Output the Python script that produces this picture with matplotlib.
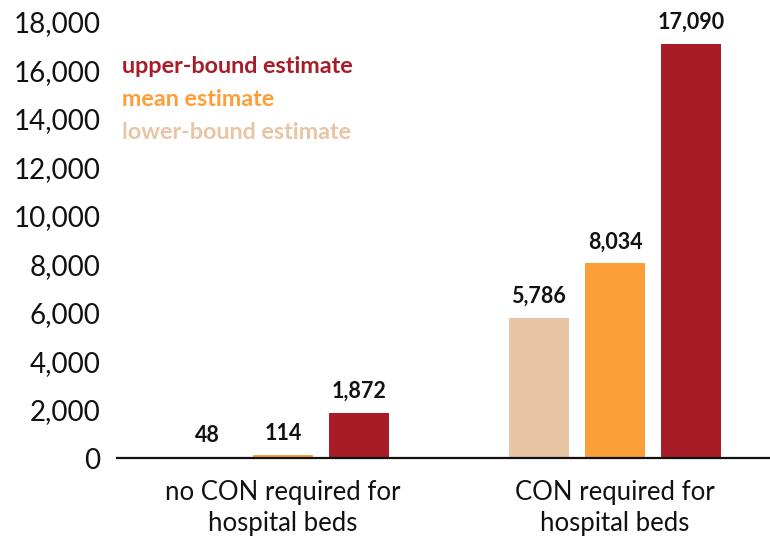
import matplotlib.pyplot as plt
import numpy as np

# --- data ---
groups = ["no CON required for\nhospital beds", "CON required for\nhospital beds"]
series = ["lower-bound estimate", "mean estimate", "upper-bound estimate"]
lower_vals = [48, 5786]
mean_vals = [114, 8034]
upper_vals = [1872, 17090]
yticks = list(range(0, 18001, 2000))

colors = {"lower-bound estimate": "#E8C5A4",
          "mean estimate": "#FD9F38",
          "upper-bound estimate": "#A81C27"}

plt.rcParams['font.family'] = ['Lato', 'DejaVu Sans']

fig = plt.figure(figsize=(7.7, 5.37), dpi=100)
ax = fig.add_axes([0.152, 0.147, 0.848, 0.812])

x = np.arange(len(groups))
offset = 0.229
width = 0.181
all_vals = [lower_vals, mean_vals, upper_vals]

for i, (name, vals) in enumerate(zip(series, all_vals)):
    pos = x + (i - 1) * offset
    ax.bar(pos, vals, width=width, color=colors[name], zorder=2)
    for p, v in zip(pos, vals):
        ax.text(p, v + 450, f"{v:,}", ha='center', va='bottom',
                fontsize=15.5, fontweight='bold', color='#111111')

ax.set_xlim(-0.5, 1.467)
ax.set_ylim(0, 18000)
ax.set_yticks(yticks)
ax.set_yticklabels([f"{t:,}" for t in yticks], fontsize=20, color='#111111')
ax.set_xticks(x)
ax.set_xticklabels(groups, fontsize=18.5, color='#111111', linespacing=1.3)
ax.tick_params(axis='y', length=0, pad=12)
ax.tick_params(axis='x', length=0, pad=16)

for s in ['top', 'right', 'left']:
    ax.spines[s].set_visible(False)
ax.spines['bottom'].set_linewidth(1.6)
ax.spines['bottom'].set_color('#111111')

# legend as coloured text
legend_y = [16150, 14800, 13450]
for name, ly in zip(["upper-bound estimate", "mean estimate", "lower-bound estimate"], legend_y):
    ax.text(-0.484, ly, name, color=colors[name], fontsize=16.8,
            fontweight='bold', va='center', ha='left')

fig.savefig("out.png", dpi=100)
